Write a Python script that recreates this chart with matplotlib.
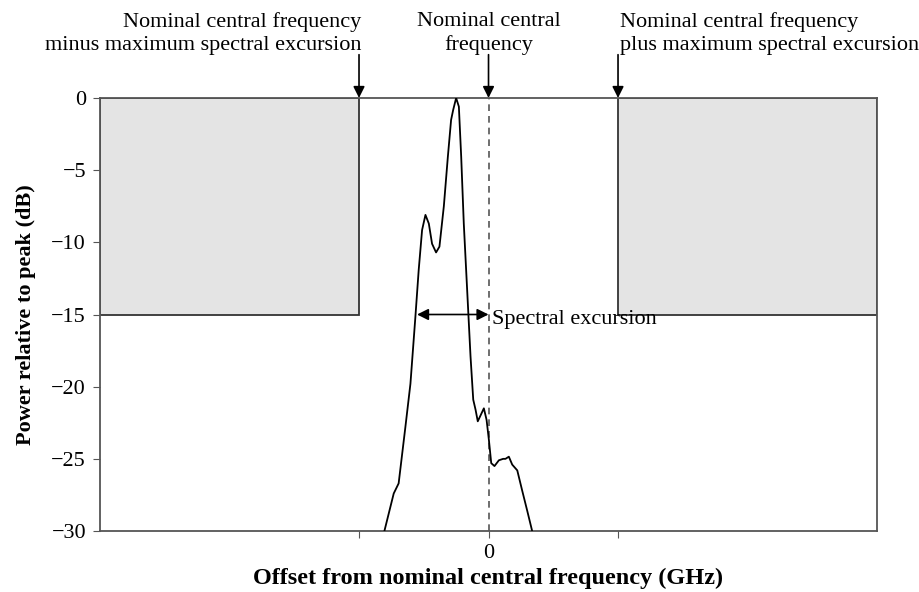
import numpy as np
import matplotlib
matplotlib.use("Agg")
import matplotlib.pyplot as plt
from matplotlib.patches import Rectangle

plt.rcParams['font.family'] = ['Liberation Serif', 'DejaVu Serif']

# spectrum trace (offset in GHz, power in dB)
offset = [-8.04, -7.32, -6.94, -6.42, -6.03, -5.65, -5.39, -5.13, -4.87, -4.61,
          -4.36, -4.05, -3.79, -3.45, -3.14, -2.89, -2.73, -2.50, -2.29, -2.11,
          -1.91, -1.65, -1.39, -1.18, -1.00, -0.83, -0.62, -0.36, -0.15, 0.03,
          0.21, 0.46, 0.80, 1.13, 1.31, 1.57, 1.83, 2.22, 2.60, 2.99, 3.37]
power = [-30.0, -27.4, -26.7, -22.8, -19.8, -15.2, -11.9, -9.15, -8.1, -8.7,
         -10.1, -10.7, -10.3, -7.5, -4.07, -1.52, -0.83, 0.0, -0.6, -4.07,
         -8.7, -13.3, -17.9, -20.9, -21.6, -22.4, -22.0, -21.5, -22.3, -23.7,
         -25.3, -25.5, -25.1, -25.0, -25.0, -24.85, -25.4, -25.8, -27.2, -28.6, -30.0]

max_excursion = 10      # mask edges at +/- this offset
mask_level = -15
excursion_left = -5.52
yticks = [0, -5, -10, -15, -20, -25, -30]

fig = plt.figure(figsize=(9.2, 5.92), dpi=100)
ax = fig.add_axes([0.1087, 0.103, 0.9533 - 0.1087, 0.8345 - 0.103])
ax.set_xlim(-30, 30)
ax.set_ylim(-30, 0)

# gray mask regions
for x0 in (-30, max_excursion):
    ax.add_patch(Rectangle((x0, mask_level), 20, -mask_level, facecolor="#e4e4e4",
                           edgecolor="#333333", lw=1.3, zorder=1))

ax.axvline(0, color="#555555", ls=(0, (4, 3)), lw=1.2, zorder=2)
ax.plot(offset, power, color="black", lw=1.3, zorder=3)

ax.annotate("", xy=(excursion_left, mask_level), xytext=(0, mask_level),
            arrowprops=dict(arrowstyle="<|-|>", color="black", lw=1.2,
                            mutation_scale=17, shrinkA=0, shrinkB=0))
ax.text(0.3, mask_level - 0.35, "Spectral excursion", fontsize=16, va="center", ha="left")

# labels above the plot with arrows pointing to the top edge
tops = [(-max_excursion, "Nominal central frequency\nminus maximum spectral excursion", "right", -9.8),
        (0, "Nominal central\nfrequency", "center", 0),
        (max_excursion, "Nominal central frequency\nplus maximum spectral excursion", "left", 10.15)]
for xv, label, ha, tx in tops:
    ax.annotate("", xy=(xv, 0), xytext=(xv, 3.0), annotation_clip=False,
                arrowprops=dict(arrowstyle="-|>", color="black", lw=1.2,
                                mutation_scale=17, shrinkA=0, shrinkB=0))
    ax.text(tx, 3.0, label, ha=ha, va="bottom", fontsize=16, linespacing=1.28)

ax.set_yticks(yticks)
ax.set_yticklabels(["0"] + ["\u2212%d" % -v for v in yticks[1:]])
ax.set_xticks([-10, 0, 10])
ax.set_xticklabels(["", "0", ""])
ax.tick_params(labelsize=16, direction="out", length=5, color="#555555", pad=5)
ax.tick_params(axis="x", pad=4)

for s in ax.spines.values():
    s.set_color("#555555")
    s.set_linewidth(1.3)

ax.set_xlabel("Offset from nominal central frequency (GHz)", fontsize=17.5,
              fontweight="bold", labelpad=4)
ax.set_ylabel("Power relative to peak (dB)", fontsize=16, fontweight="bold", labelpad=11)

fig.savefig("out.png", dpi=100)
